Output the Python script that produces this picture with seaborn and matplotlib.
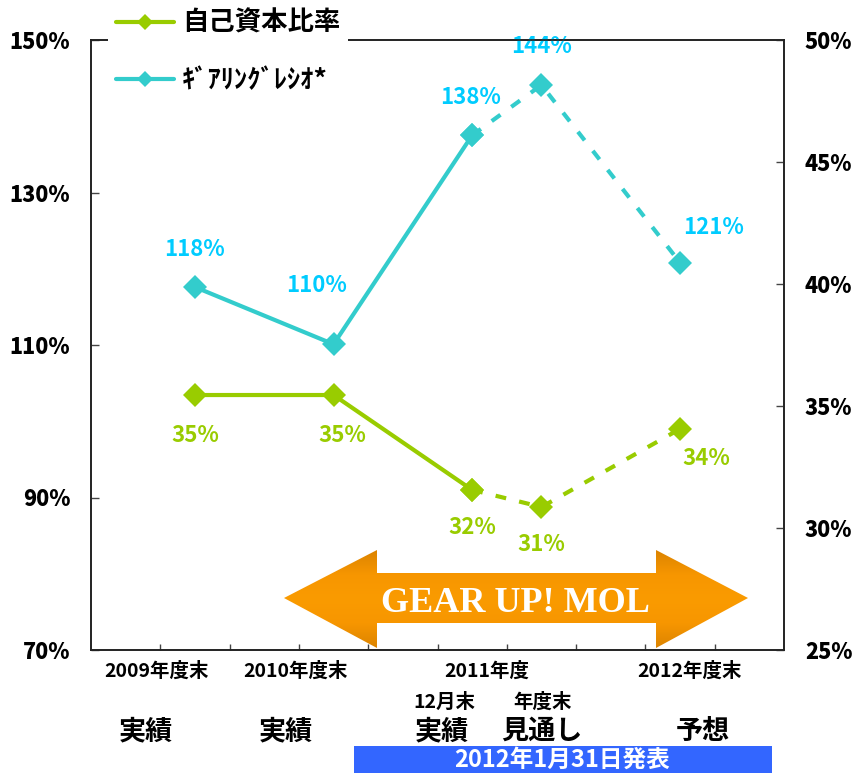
"""Gearing ratio and equity ratio chart (MOL, 2012-01-31)."""

import matplotlib
matplotlib.use('Agg')
import matplotlib.pyplot as plt
from matplotlib.lines import Line2D
from matplotlib.patches import Polygon, Rectangle
from matplotlib.colors import LinearSegmentedColormap
import numpy as np
import pandas as pd
import seaborn as sns

# data
periods = ['2009年度末', '2010年度末', '2011年12月末', '2011年度末', '2012年度末']
gearing = [117.6, 110.1, 137.5, 144.1, 120.8]
gearing_labels = ['118%', '110%', '138%', '144%', '121%']
equity = [35.45, 35.45, 31.56, 30.86, 34.06]
equity_labels = ['35%', '35%', '32%', '31%', '34%']

left_ticks = [70, 90, 110, 130, 150]
right_ticks = [25, 30, 35, 40, 45, 50]

# layout
x_pos = [1.5, 3.5, 5.5, 6.5, 8.5]
n_solid = 3  # actual results; the rest is dashed (outlook / forecast)

CYAN = '#33CCCC'
CYAN_TXT = '#00CCFF'
GREEN = '#99CC00'

sns.set_style('white')
plt.rcParams['font.family'] = ['Noto Sans CJK JP', 'DejaVu Sans']
plt.rcParams['font.weight'] = 'bold'
plt.rcParams['text.color'] = 'black'
plt.rcParams['ytick.labelcolor'] = 'black'

df = pd.DataFrame({'x': x_pos, 'period': periods,
                   'gearing': gearing, 'equity': equity})
solid = df.iloc[:n_solid]
dashed = df.iloc[n_solid - 1:]

W, H = 852, 773
fig = plt.figure(figsize=(W / 100, H / 100), dpi=100)
ax = fig.add_axes([91 / W, 1 - 650 / H, (784 - 91) / W, 610 / H])
ax2 = ax.twinx()

line_kw = dict(marker='D', markersize=12.5, markeredgewidth=0, linewidth=3)
dash = (0, (2.6, 3.2))

sns.lineplot(data=solid, x='x', y='gearing', ax=ax, color=CYAN, **line_kw)
sns.lineplot(data=dashed, x='x', y='gearing', ax=ax, color=CYAN,
             linestyle=dash, **line_kw)
sns.lineplot(data=solid, x='x', y='equity', ax=ax2, color=GREEN, **line_kw)
sns.lineplot(data=dashed, x='x', y='equity', ax=ax2, color=GREEN,
             linestyle=dash, **line_kw)

# value labels
g_off = [(0, 27), (-12, 42), (-1, 27), (0, 28), (24, 25)]
e_off = [(0, -29), (6, -29), (0, -27), (0, -27), (19, -21)]
for x, y, t, o in zip(df['x'], df['gearing'], gearing_labels, g_off):
    ax.annotate(t, (x, y), xytext=o, textcoords='offset points',
                ha='center', va='center', color=CYAN_TXT, fontsize=16,
                fontweight='bold', annotation_clip=False)
for x, y, t, o in zip(df['x'], df['equity'], equity_labels, e_off):
    ax2.annotate(t, (x, y), xytext=o, textcoords='offset points',
                 ha='center', va='center', color=GREEN, fontsize=16,
                 fontweight='bold', annotation_clip=False)

ax.set_xlim(0, 10)
ax.set_ylim(70, 150)
ax2.set_ylim(25, 50)
ax.set_xticks(range(1, 10))
ax.set_yticks(left_ticks)
ax.set_yticklabels([f'{v}%' for v in left_ticks])
ax2.set_yticks(right_ticks)
ax2.set_yticklabels([f'{v}%' for v in right_ticks])
for a in (ax, ax2):
    a.set_xlabel('')
    a.set_ylabel('')
    for s in a.spines.values():
        s.set_color('#222222')
        s.set_linewidth(1.2)
ax.tick_params(axis='x', direction='in', length=4, width=1,
               labelbottom=False, bottom=True, color='#444444')
ax.tick_params(axis='y', direction='in', length=6, width=1, pad=15,
               labelsize=15.5, color='#444444')
ax2.tick_params(axis='y', direction='in', length=6, width=1, pad=15,
                labelsize=15.5, color='#444444')
for lab in ax.get_yticklabels() + ax2.get_yticklabels():
    lab.set_fontweight('heavy')

# legend
handles = [Line2D([], [], color=GREEN, lw=3, marker='D', markersize=8,
                  markeredgewidth=0),
           Line2D([], [], color=CYAN, lw=3, marker='D', markersize=8,
                  markeredgewidth=0)]
leg = fig.legend(handles, ['自己資本比率', 'ｷﾞｱﾘﾝｸﾞﾚｼｵ*'],
                 loc='upper left', bbox_to_anchor=(108 / W, 1 - 2 / H),
                 borderaxespad=0, borderpad=0.3, fontsize=19,
                 handlelength=2.2, handletextpad=0.3, labelspacing=1.15,
                 frameon=True, facecolor='white', edgecolor='none',
                 framealpha=1, fancybox=False)
for t in leg.get_texts():
    t.set_fontweight('bold')

# overlay in pixel coordinates for the arrow, period captions and band
ov = fig.add_axes([0, 0, 1, 1], zorder=3)
ov.set_xlim(0, W)
ov.set_ylim(H, 0)
ov.axis('off')

arrow_pts = [(284, 598), (377, 550), (377, 573), (656, 573), (656, 550),
             (748, 598), (656, 648), (656, 623), (377, 623), (377, 648)]
poly = Polygon(arrow_pts, closed=True, facecolor='none', edgecolor='none')
ov.add_patch(poly)
cmap = LinearSegmentedColormap.from_list(
    'orange', ['#DC8400', '#F79600', '#FA9B00', '#F79600', '#DC8400'])
grad = np.linspace(0, 1, 256).reshape(-1, 1)
img = ov.imshow(grad, cmap=cmap, extent=(284, 748, 648, 550),
                aspect='auto', interpolation='bilinear')
img.set_clip_path(poly)
ov.set_xlim(0, W)
ov.set_ylim(H, 0)
ov.text(515, 612, 'GEAR UP! MOL', color='white', fontsize=26,
        fontweight='bold', family=['Liberation Serif', 'DejaVu Serif'],
        ha='center', va='baseline')

top_caps = [(157, '2009年度末'), (296, '2010年度末'), (487, '2011年度'),
            (690, '2012年度末')]
for x, t in top_caps:
    ov.text(x, 671, t, ha='center', va='center', fontsize=14,
            fontweight='bold')
for x, t in [(444, '12月末'), (543, '年度末')]:
    ov.text(x, 702, t, ha='center', va='center', fontsize=14,
            fontweight='bold')
for x, t in [(146, '実績'), (286, '実績'), (442, '実績'), (542, '見通し'),
             (703, '予想')]:
    ov.text(x, 731, t, ha='center', va='center', fontsize=19.5,
            fontweight='bold')

ov.add_patch(Rectangle((354, 746), 418, 27, facecolor='#3366FF',
                       edgecolor='none'))
ov.text(562, 760, '2012年1月31日発表', color='white', ha='center',
        va='center', fontsize=17, fontweight='bold')

fig.savefig('out.png', dpi=100)
